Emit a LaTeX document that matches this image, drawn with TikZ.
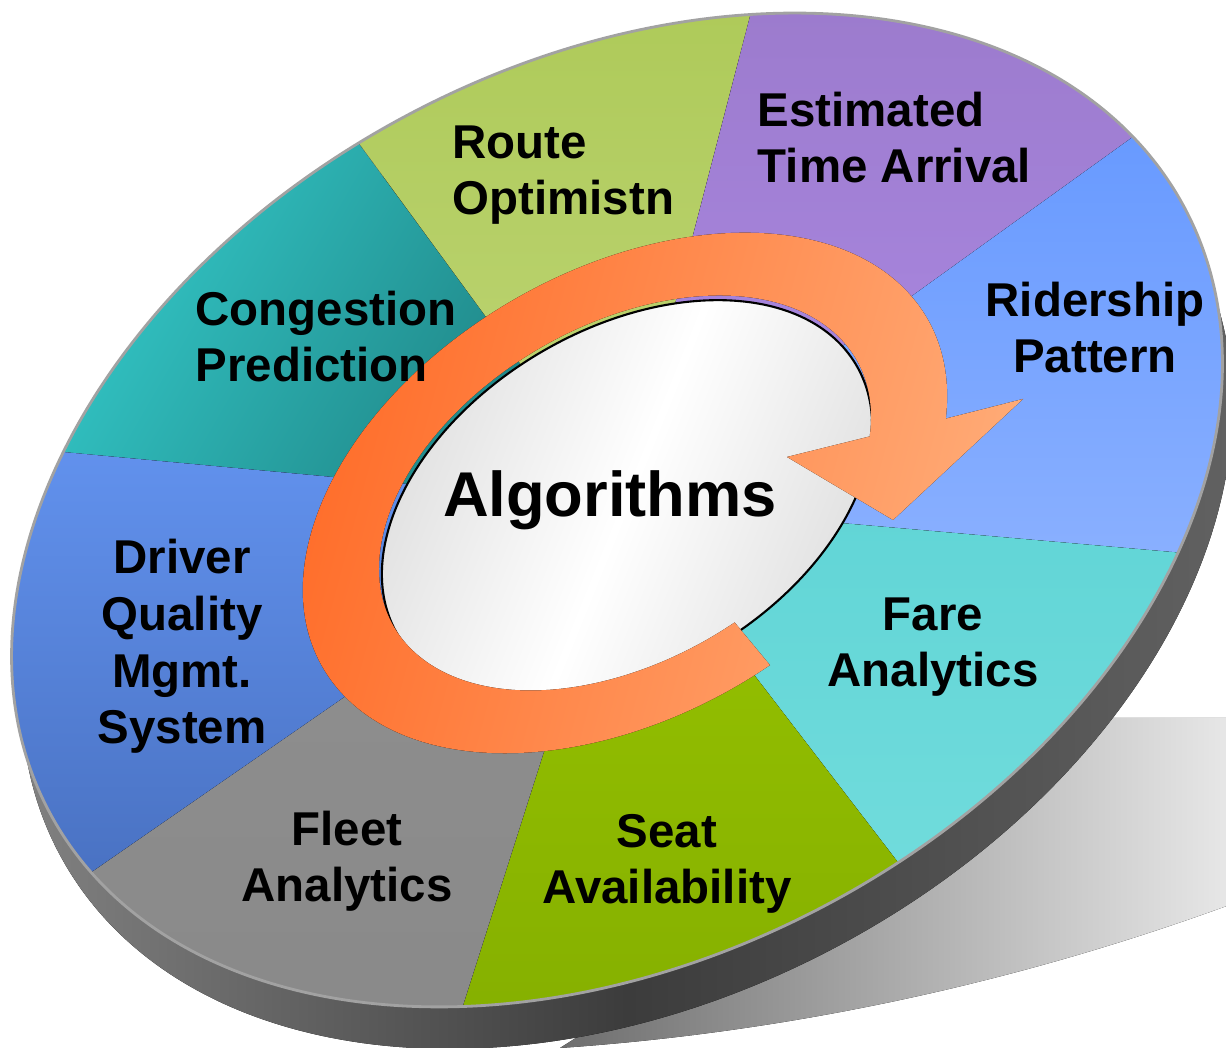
\documentclass[tikz,border=0pt]{standalone}
\usepackage{fontspec}
\setmainfont{Liberation Sans}
\definecolor{congA}{HTML}{34CACA}
\definecolor{congB}{HTML}{1D7E7F}
\definecolor{routeA}{HTML}{A7C54C}
\definecolor{routeB}{HTML}{BED576}
\definecolor{etaA}{HTML}{9676C5}
\definecolor{etaB}{HTML}{AC89E4}
\definecolor{rideA}{HTML}{6598FF}
\definecolor{rideB}{HTML}{8AB0FF}
\definecolor{fareA}{HTML}{61D5D6}
\definecolor{fareB}{HTML}{78DFDF}
\definecolor{seatA}{HTML}{97C300}
\definecolor{seatB}{HTML}{7EA800}
\definecolor{fleetA}{HTML}{8F8F8F}
\definecolor{fleetB}{HTML}{888888}
\definecolor{drvA}{HTML}{6292EE}
\definecolor{drvB}{HTML}{4870C0}
\definecolor{orgA}{HTML}{FF6A26}
\definecolor{orgB}{HTML}{FFAC78}
\definecolor{shadowA}{HTML}{6E6E6E}
\definecolor{shadowB}{HTML}{F4F4F4}
\definecolor{sideA}{HTML}{8A8A8A}
\definecolor{sideB}{HTML}{3C3C3C}
\definecolor{sideC}{HTML}{666666}
\definecolor{rim}{HTML}{A2A2A2}
\pgfdeclarehorizontalshading{holeshade}{100bp}{color(0bp)=(black!48); color(12bp)=(black!45); color(28bp)=(black!12); color(50bp)=(white); color(72bp)=(black!12); color(88bp)=(black!45); color(100bp)=(black!48)}
\begin{document}
\begin{tikzpicture}[x=0.1mm,y=0.1mm,
	lbl/.style={font=\fontsize{13.5}{16.2}\selectfont\bfseries, inner sep=0pt, anchor=base},
	hole/.style={shade, shading=holeshade, shading angle=-22, draw=black, line width=0.6pt}]
	\useasboundingbox (0,0) rectangle (1226,1048);
	\clip (0,0) rectangle (1226,1048);
	\fill[left color=shadowA, right color=shadowB] (1300,330) -- (1080,330) -- (560,0) .. controls (850,20) and (1100,90) .. (1300,170) -- cycle;
	\fill[left color=sideA, right color=sideC, middle color=sideB, rotate around={28:(627,496)}] (627,496) ellipse [x radius=643, y radius=447];
	\begin{scope}
	\clip[rotate around={28:(617,538)}] (617,538) ellipse [x radius=643, y radius=447];
	\coordinate (c) at (623,544);
	\fill[left color=congA, right color=congB, shading angle=60] (c) -- ++(174.7:590) -- (150,800) -- (340,930) -- cycle;
	\fill[top color=routeA, bottom color=routeB] (c) -- ++(126.2:700) arc[start angle=126.2, end angle=75.4, radius=700] -- cycle;
	\fill[top color=etaA, bottom color=etaB] (c) -- ++(75.4:700) arc[start angle=75.4, end angle=35.75, radius=700] -- cycle;
	\fill[top color=rideA, bottom color=rideB] (c) -- ++(35.75:700) arc[start angle=35.75, end angle=-5, radius=700] -- cycle;
	\fill[top color=fareA, bottom color=fareB] (c) -- ++(-5:700) arc[start angle=-5, end angle=-52.5, radius=700] -- cycle;
	\fill[top color=seatA, bottom color=seatB] (c) -- ++(-52.5:700) arc[start angle=-52.5, end angle=-107.7, radius=700] -- cycle;
	\fill[top color=fleetA, bottom color=fleetB] (c) -- ++(-107.7:700) arc[start angle=-107.7, end angle=-145.3, radius=700] -- cycle;
	\fill[top color=drvA, bottom color=drvB] (c) -- ++(214.7:700) arc[start angle=214.7, end angle=174.7, radius=700] -- cycle;
	\end{scope}
	\draw[rim, line width=0.8pt, rotate around={28:(617,538)}] (617,538) ellipse [x radius=643, y radius=447];
	\draw[hole, rotate around={30.5:(627,548)}] (627,548) ellipse [x radius=266, y radius=171];
	\begin{scope}[shift={(625,555)}, rotate=30]
	\fill[left color=orgA, right color=orgB, shading angle=75] (-83.5:267 and 168) -- (-83.5:349 and 223) arc[start angle=-83.5, end angle=-385.5, x radius=349, y radius=223] -- (391.7,-117.6) -- (218.6,-157.4) -- (158.3,-49.8) -- (-25.9:267 and 168) arc[start angle=-25.9, end angle=276.5, x radius=267, y radius=168] -- cycle;
	\end{scope}
	\node[lbl, anchor=base west, align=left] (route) at (452,833) {Route\\Optimistn};
	\node[lbl, anchor=base west, align=left] (eta) at (757,865) {Estimated\\Time Arrival};
	\node[lbl, anchor=base west, align=left] (cong) at (195,666) {Congestion\\Prediction};
	\node[lbl, align=center] (rider) at (1095,675) {Ridership\\Pattern};
	\node[lbl, align=center] (driver) at (182,304) {Driver\\Quality\\Mgmt.\\System};
	\node[lbl, align=center] (fleet) at (347,146) {Fleet\\Analytics};
	\node[lbl, align=center] (seat) at (667,144) {Seat\\Availability};
	\node[lbl, align=center] (fare) at (933,361) {Fare\\Analytics};
	\node[font=\fontsize{18}{21.6}\selectfont\bfseries, inner sep=0pt, anchor=base] (algo) at (610,531) {Algorithms};
\end{tikzpicture}
\end{document}
